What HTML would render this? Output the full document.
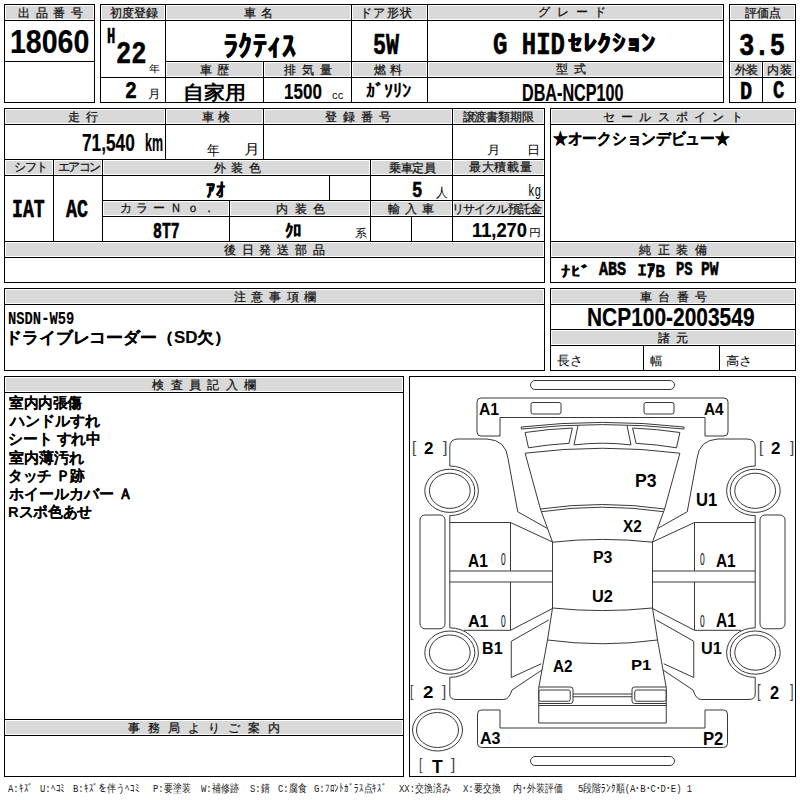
<!DOCTYPE html><html><head><meta charset="utf-8"><style>
html,body{margin:0;padding:0;background:#fff;width:800px;height:800px;overflow:hidden}
#p{position:relative;width:800px;height:800px;font-family:"Liberation Sans",sans-serif;color:#000}
.l{position:absolute;background:#000}.g{position:absolute;background:#d9d9d9}
.t{position:absolute;white-space:pre;line-height:1;transform-origin:0 0}
.h{color:#111;-webkit-text-stroke:0.25px #111}.b{font-weight:bold}
.f{position:absolute;white-space:pre;line-height:1;font-size:11px;color:#222;font-family:"Liberation Mono",monospace;transform:scaleX(0.81);transform-origin:0 0}
</style></head><body><div id="p">
<div class="g" style="left:6px;top:6px;width:87px;height:13px"></div>
<div class="g" style="left:102px;top:6px;width:62px;height:13px"></div>
<div class="g" style="left:167px;top:6px;width:183px;height:13px"></div>
<div class="g" style="left:353px;top:6px;width:73px;height:13px"></div>
<div class="g" style="left:429px;top:6px;width:293px;height:13px"></div>
<div class="g" style="left:167px;top:63px;width:95px;height:13px"></div>
<div class="g" style="left:265px;top:63px;width:85px;height:13px"></div>
<div class="g" style="left:353px;top:63px;width:73px;height:13px"></div>
<div class="g" style="left:429px;top:63px;width:293px;height:13px"></div>
<div class="g" style="left:731px;top:6px;width:63px;height:13px"></div>
<div class="g" style="left:731px;top:63px;width:30px;height:13px"></div>
<div class="g" style="left:764px;top:63px;width:30px;height:13px"></div>
<div class="g" style="left:6px;top:110px;width:158px;height:13px"></div>
<div class="g" style="left:167px;top:110px;width:95px;height:13px"></div>
<div class="g" style="left:265px;top:110px;width:186px;height:13px"></div>
<div class="g" style="left:454px;top:110px;width:89px;height:13px"></div>
<div class="g" style="left:6px;top:161px;width:46px;height:13px"></div>
<div class="g" style="left:55px;top:161px;width:46px;height:13px"></div>
<div class="g" style="left:104px;top:161px;width:265px;height:13px"></div>
<div class="g" style="left:372px;top:161px;width:79px;height:13px"></div>
<div class="g" style="left:454px;top:161px;width:89px;height:13px"></div>
<div class="g" style="left:104px;top:202px;width:124px;height:13px"></div>
<div class="g" style="left:231px;top:202px;width:138px;height:13px"></div>
<div class="g" style="left:372px;top:202px;width:79px;height:13px"></div>
<div class="g" style="left:454px;top:202px;width:89px;height:13px"></div>
<div class="g" style="left:6px;top:243px;width:537px;height:13px"></div>
<div class="g" style="left:552px;top:110px;width:242px;height:13px"></div>
<div class="g" style="left:552px;top:243px;width:242px;height:13px"></div>
<div class="g" style="left:6px;top:290px;width:537px;height:13px"></div>
<div class="g" style="left:552px;top:290px;width:242px;height:13px"></div>
<div class="g" style="left:552px;top:331px;width:242px;height:13px"></div>
<div class="g" style="left:6px;top:378px;width:396px;height:13px"></div>
<div class="g" style="left:6px;top:721px;width:396px;height:13px"></div>
<div class="l" style="left:4px;top:4px;width:91px;height:1px"></div>
<div class="l" style="left:4px;top:102px;width:91px;height:1px"></div>
<div class="l" style="left:4px;top:4px;width:1px;height:99px"></div>
<div class="l" style="left:94px;top:4px;width:1px;height:99px"></div>
<div class="l" style="left:4px;top:20px;width:91px;height:1px"></div>
<div class="l" style="left:4px;top:61px;width:91px;height:1px"></div>
<div class="l" style="left:100px;top:4px;width:624px;height:1px"></div>
<div class="l" style="left:100px;top:102px;width:624px;height:1px"></div>
<div class="l" style="left:100px;top:4px;width:1px;height:99px"></div>
<div class="l" style="left:723px;top:4px;width:1px;height:99px"></div>
<div class="l" style="left:100px;top:20px;width:624px;height:1px"></div>
<div class="l" style="left:165px;top:4px;width:1px;height:99px"></div>
<div class="l" style="left:351px;top:4px;width:1px;height:99px"></div>
<div class="l" style="left:427px;top:4px;width:1px;height:99px"></div>
<div class="l" style="left:165px;top:61px;width:559px;height:1px"></div>
<div class="l" style="left:100px;top:77px;width:624px;height:1px"></div>
<div class="l" style="left:263px;top:61px;width:1px;height:42px"></div>
<div class="l" style="left:729px;top:4px;width:67px;height:1px"></div>
<div class="l" style="left:729px;top:102px;width:67px;height:1px"></div>
<div class="l" style="left:729px;top:4px;width:1px;height:99px"></div>
<div class="l" style="left:795px;top:4px;width:1px;height:99px"></div>
<div class="l" style="left:729px;top:20px;width:67px;height:1px"></div>
<div class="l" style="left:729px;top:61px;width:67px;height:1px"></div>
<div class="l" style="left:729px;top:77px;width:67px;height:1px"></div>
<div class="l" style="left:762px;top:61px;width:1px;height:42px"></div>
<div class="l" style="left:4px;top:108px;width:541px;height:1px"></div>
<div class="l" style="left:4px;top:282px;width:541px;height:1px"></div>
<div class="l" style="left:4px;top:108px;width:1px;height:175px"></div>
<div class="l" style="left:544px;top:108px;width:1px;height:175px"></div>
<div class="l" style="left:4px;top:124px;width:541px;height:1px"></div>
<div class="l" style="left:165px;top:108px;width:1px;height:52px"></div>
<div class="l" style="left:263px;top:108px;width:1px;height:52px"></div>
<div class="l" style="left:452px;top:108px;width:1px;height:134px"></div>
<div class="l" style="left:4px;top:159px;width:541px;height:1px"></div>
<div class="l" style="left:4px;top:175px;width:541px;height:1px"></div>
<div class="l" style="left:53px;top:159px;width:1px;height:83px"></div>
<div class="l" style="left:102px;top:159px;width:1px;height:83px"></div>
<div class="l" style="left:370px;top:159px;width:1px;height:83px"></div>
<div class="l" style="left:102px;top:200px;width:443px;height:1px"></div>
<div class="l" style="left:102px;top:216px;width:443px;height:1px"></div>
<div class="l" style="left:329px;top:175px;width:1px;height:26px"></div>
<div class="l" style="left:229px;top:200px;width:1px;height:42px"></div>
<div class="l" style="left:411px;top:216px;width:1px;height:26px"></div>
<div class="l" style="left:4px;top:241px;width:541px;height:1px"></div>
<div class="l" style="left:4px;top:257px;width:541px;height:1px"></div>
<div class="l" style="left:550px;top:108px;width:246px;height:1px"></div>
<div class="l" style="left:550px;top:282px;width:246px;height:1px"></div>
<div class="l" style="left:550px;top:108px;width:1px;height:175px"></div>
<div class="l" style="left:795px;top:108px;width:1px;height:175px"></div>
<div class="l" style="left:550px;top:124px;width:246px;height:1px"></div>
<div class="l" style="left:550px;top:241px;width:246px;height:1px"></div>
<div class="l" style="left:550px;top:257px;width:246px;height:1px"></div>
<div class="l" style="left:4px;top:288px;width:541px;height:1px"></div>
<div class="l" style="left:4px;top:370px;width:541px;height:1px"></div>
<div class="l" style="left:4px;top:288px;width:1px;height:83px"></div>
<div class="l" style="left:544px;top:288px;width:1px;height:83px"></div>
<div class="l" style="left:4px;top:304px;width:541px;height:1px"></div>
<div class="l" style="left:550px;top:288px;width:246px;height:1px"></div>
<div class="l" style="left:550px;top:370px;width:246px;height:1px"></div>
<div class="l" style="left:550px;top:288px;width:1px;height:83px"></div>
<div class="l" style="left:795px;top:288px;width:1px;height:83px"></div>
<div class="l" style="left:550px;top:304px;width:246px;height:1px"></div>
<div class="l" style="left:550px;top:329px;width:246px;height:1px"></div>
<div class="l" style="left:550px;top:345px;width:246px;height:1px"></div>
<div class="l" style="left:643px;top:345px;width:1px;height:26px"></div>
<div class="l" style="left:719px;top:345px;width:1px;height:26px"></div>
<div class="l" style="left:4px;top:376px;width:400px;height:1px"></div>
<div class="l" style="left:4px;top:776px;width:400px;height:1px"></div>
<div class="l" style="left:4px;top:376px;width:1px;height:401px"></div>
<div class="l" style="left:403px;top:376px;width:1px;height:401px"></div>
<div class="l" style="left:4px;top:392px;width:400px;height:1px"></div>
<div class="l" style="left:4px;top:719px;width:400px;height:1px"></div>
<div class="l" style="left:4px;top:735px;width:400px;height:1px"></div>
<div class="l" style="left:409px;top:376px;width:387px;height:1px"></div>
<div class="l" style="left:409px;top:776px;width:387px;height:1px"></div>
<div class="l" style="left:409px;top:376px;width:1px;height:401px"></div>
<div class="l" style="left:795px;top:376px;width:1px;height:401px"></div>
<svg width="800" height="800" viewBox="0 0 800 800" style="position:absolute;left:0;top:0" fill="none" stroke="#383838" stroke-width="1">
<g id="lh">
<rect x="531" y="402.5" width="30" height="11.5" rx="2"/>
<path d="M525.1,432.5 Q548,429 572.4,428 L569,443.3 Q548,444.5 528.5,447.8 Z"/>
<path d="M540.4,509 L552.5,542"/>
<path d="M552.5,542 L552.5,608.5"/>
<path d="M552.5,608 L547.5,640 L538.75,687.5 L538.75,723"/>
<path d="M538.75,687 L570.5,687 Q573,687 573,689.5 L573,701 Q573,703.5 570.5,703.5 L538.75,703.5"/>
<rect x="538.75" y="690" width="31.5" height="11.25" rx="2"/>
<ellipse cx="449.8" cy="490.8" rx="25" ry="21.6"/>
<ellipse cx="449.8" cy="490.8" rx="20.4" ry="17.6"/>
<path d="M449.8,466.0 A28.6,24.8 0 0 1 449.8,515.6"/>
<ellipse cx="449.8" cy="652.6" rx="25" ry="21.6"/>
<ellipse cx="449.8" cy="652.6" rx="20.4" ry="17.6"/>
<path d="M449.8,627.8 A28.6,24.8 0 0 1 449.8,677.4"/>
<rect x="420" y="515" width="25" height="113.75" rx="5"/>
<path d="M449.8,466 L449.8,447 Q449.8,439 458,439 L487,439 Q506,440 508,458.5 L517.75,511.75 L547,528.25"/>
<path d="M449.8,515.6 L449.8,627.8"/>
<path d="M449.8,522.5 L510.5,522.5 L552.5,542"/>
<path d="M510.5,522.5 L510.5,571 M510.5,582 L510.5,630"/>
<path d="M449.8,571 L552.5,571 M449.8,582 L552.5,582"/>
<path d="M464,630.3 L510.5,630.3 L552.5,608.5"/>
<path d="M548.75,620 L511.25,641.25 L511.25,677.5 L541.25,663.75"/>
<path d="M449.8,677.4 L449.8,694 Q449.8,699.5 456,699.5 L503.75,699.5 Q509,699.5 512,690 L542,670"/>
</g>
<g transform="translate(1205,0) scale(-1,1)">
<rect x="531" y="402.5" width="30" height="11.5" rx="2"/>
<path d="M525.1,432.5 Q548,429 572.4,428 L569,443.3 Q548,444.5 528.5,447.8 Z"/>
<path d="M540.4,509 L552.5,542"/>
<path d="M552.5,542 L552.5,608.5"/>
<path d="M552.5,608 L547.5,640 L538.75,687.5 L538.75,723"/>
<path d="M538.75,687 L570.5,687 Q573,687 573,689.5 L573,701 Q573,703.5 570.5,703.5 L538.75,703.5"/>
<rect x="538.75" y="690" width="31.5" height="11.25" rx="2"/>
<ellipse cx="449.8" cy="490.8" rx="25" ry="21.6"/>
<ellipse cx="449.8" cy="490.8" rx="20.4" ry="17.6"/>
<path d="M449.8,466.0 A28.6,24.8 0 0 1 449.8,515.6"/>
<ellipse cx="449.8" cy="652.6" rx="25" ry="21.6"/>
<ellipse cx="449.8" cy="652.6" rx="20.4" ry="17.6"/>
<path d="M449.8,627.8 A28.6,24.8 0 0 1 449.8,677.4"/>
<rect x="420" y="515" width="25" height="113.75" rx="5"/>
<path d="M449.8,466 L449.8,447 Q449.8,439 458,439 L487,439 Q506,440 508,458.5 L517.75,511.75 L547,528.25"/>
<path d="M449.8,515.6 L449.8,627.8"/>
<path d="M449.8,522.5 L510.5,522.5 L552.5,542"/>
<path d="M510.5,522.5 L510.5,571 M510.5,582 L510.5,630"/>
<path d="M449.8,571 L552.5,571 M449.8,582 L552.5,582"/>
<path d="M464,630.3 L510.5,630.3 L552.5,608.5"/>
<path d="M548.75,620 L511.25,641.25 L511.25,677.5 L541.25,663.75"/>
<path d="M449.8,677.4 L449.8,694 Q449.8,699.5 456,699.5 L503.75,699.5 Q509,699.5 512,690 L542,670"/>
</g>
<rect x="530.5" y="380.5" width="144" height="9" rx="4.5"/>
<rect x="530.5" y="756.5" width="144" height="9" rx="4.5"/>
<path d="M500,436 L481,436 Q477,436 477,432 L477,402 Q477,398 481,398 L724,398 Q728,398 728,402 L728,432 Q728,436 724,436 L705,436 L705,417.5 L500,417.5 Z"/>
<path d="M521.3,427 Q602.5,417.8 684,427 L684,429 Q602.5,420.2 521.3,429 Z"/>
<path d="M578,425.5 L574,444.9 Q602.5,441.5 631,444.9 L627,425.5"/>
<path d="M525.1,453.2 Q602.5,443.3 679.9,453.2 L664.6,509 Q602.5,500 540.4,509 Z"/>
<path d="M541.5,511.7 Q602.5,502.7 663.5,511.7"/>
<path d="M552.5,542.2 Q602.5,536.6 652.5,542.2"/>
<path d="M552.5,608 Q602.5,613.2 652.5,608"/>
<path d="M547.5,640 Q602.5,647.5 657.5,640"/>
<path d="M573,694 L632,694 M573,696.75 L632,696.75"/>
<path d="M538.75,705.5 L666.25,705.5 M538.75,723 L666.25,723"/>
<path d="M500,710 L481.5,710 Q477.5,710 477.5,714 L477.5,743.5 Q477.5,747.5 481.5,747.5 L723.5,747.5 Q727.5,747.5 727.5,743.5 L727.5,714 Q727.5,710 723.5,710 L705,710 L705,728 L500,728 Z"/>
<ellipse cx="437.5" cy="730" rx="25" ry="21"/>
<ellipse cx="437.5" cy="730" rx="21" ry="17.5"/>
</svg>
<div class="t h" id="t0" style="left:18.10px;top:8.16px;font-size:11.50px;letter-spacing:1.22px;">出 品 番 号</div>
<div class="t h" id="t1" style="left:109.59px;top:7.65px;font-size:11.50px;letter-spacing:0.13px;">初度登録</div>
<div class="t h" id="t2" style="left:243.76px;top:7.51px;font-size:11.50px;letter-spacing:1.17px;">車 名</div>
<div class="t h" id="t3" style="left:360.19px;top:8.16px;font-size:11.50px;letter-spacing:1.29px;">ドア形状</div>
<div class="t h" id="t4" style="left:538.00px;top:6.79px;font-size:11.50px;letter-spacing:1.81px;">グ レ ー ド</div>
<div class="t h" id="t5" style="left:745.00px;top:7.57px;font-size:11.50px;letter-spacing:-0.04px;">評価点</div>
<div class="t h" id="t6" style="left:200.00px;top:64.74px;font-size:11.50px;letter-spacing:1.02px;">車 歴</div>
<div class="t h" id="t7" style="left:283.80px;top:64.65px;font-size:11.50px;letter-spacing:1.36px;">排 気 量</div>
<div class="t h" id="t8" style="left:373.80px;top:64.65px;font-size:11.50px;letter-spacing:0.52px;">燃 料</div>
<div class="t h" id="t9" style="left:556.00px;top:64.06px;font-size:11.50px;letter-spacing:1.63px;">型 式</div>
<div class="t h" id="t10" style="left:734.53px;top:64.77px;font-size:11.50px;letter-spacing:-0.92px;">外装</div>
<div class="t h" id="t11" style="left:767.42px;top:65.27px;font-size:11.50px;letter-spacing:0.30px;">内装</div>
<div class="t h" id="t12" style="left:68.15px;top:112.46px;font-size:11.50px;letter-spacing:1.22px;">走 行</div>
<div class="t h" id="t13" style="left:201.66px;top:112.46px;font-size:11.50px;letter-spacing:0.60px;">車 検</div>
<div class="t h" id="t14" style="left:325.47px;top:111.51px;font-size:11.50px;letter-spacing:1.31px;">登 録 番 号</div>
<div class="t h" id="t15" style="left:462.53px;top:111.51px;font-size:11.50px;letter-spacing:-0.11px;">譲渡書類期限</div>
<div class="t h" id="t16" style="left:603.05px;top:111.54px;font-size:11.50px;letter-spacing:1.51px;">セ ー ル ス ポ イ ン ト</div>
<div class="t h" id="t17" style="left:13.55px;top:161.59px;font-size:11.50px;letter-spacing:-0.91px;">シフト</div>
<div class="t h" id="t18" style="left:57.88px;top:162.19px;font-size:11.50px;letter-spacing:-1.60px;">エアコン</div>
<div class="t h" id="t19" style="left:213.55px;top:162.66px;font-size:11.50px;letter-spacing:1.19px;">外 装 色</div>
<div class="t h" id="t20" style="left:389.23px;top:162.81px;font-size:11.50px;letter-spacing:-0.56px;">乗車定員</div>
<div class="t h" id="t21" style="left:469.00px;top:162.42px;font-size:11.50px;letter-spacing:0.67px;">最大積載量</div>
<div class="t h" id="t22" style="left:119.82px;top:202.51px;font-size:11.50px;letter-spacing:0.74px;">カ ラ ー Ｎ ｏ ．</div>
<div class="t h" id="t23" style="left:276.00px;top:203.79px;font-size:11.50px;letter-spacing:1.68px;">内 装 色</div>
<div class="t h" id="t24" style="left:387.50px;top:204.29px;font-size:11.50px;letter-spacing:1.03px;">輸 入 車</div>
<div class="t h" id="t25" style="left:452.31px;top:204.16px;font-size:11.50px;letter-spacing:-0.95px;">リサイクル預託金</div>
<div class="t h" id="t26" style="left:223.78px;top:245.16px;font-size:11.50px;letter-spacing:1.28px;">後 日 発 送 部 品</div>
<div class="t h" id="t27" style="left:639.00px;top:244.51px;font-size:11.50px;letter-spacing:1.72px;">純 正 装 備</div>
<div class="t h" id="t28" style="left:233.76px;top:291.51px;font-size:11.50px;letter-spacing:1.24px;">注 意 事 項 欄</div>
<div class="t h" id="t29" style="left:640.32px;top:291.51px;font-size:11.50px;letter-spacing:1.45px;">車 台 番 号</div>
<div class="t h" id="t30" style="left:658.46px;top:333.39px;font-size:11.50px;letter-spacing:1.32px;">諸 元</div>
<div class="t h" id="t31" style="left:152.32px;top:379.51px;font-size:11.50px;letter-spacing:1.56px;">検 査 員 記 入 欄</div>
<div class="t h" id="t32" style="left:128.00px;top:722.51px;font-size:11.50px;letter-spacing:2.41px;">事 務 局 よ り ご 案 内</div>
<div class="t" id="t33" style="left:10.35px;top:26.01px;font-size:32.65px;font-weight:bold;transform:scaleX(0.874);-webkit-text-stroke:0.2px #000;">18060</div>
<div class="t" id="t34" style="left:107.16px;top:26.83px;font-size:21.17px;font-weight:bold;transform:scaleX(0.652);font-family:'Liberation Mono',monospace;-webkit-text-stroke:0.6px #000;">H</div>
<div class="t" id="t35" style="left:116.15px;top:39.46px;font-size:31.48px;font-weight:bold;transform:scaleX(0.806);font-family:'Liberation Mono',monospace;-webkit-text-stroke:0.6px #000;">22</div>
<div class="t" id="t36" style="left:149.29px;top:63.56px;font-size:10.47px;transform:scaleX(1.090);">年</div>
<div class="t" id="t37" style="left:125.30px;top:79.56px;font-size:23.61px;font-weight:bold;transform:scaleX(0.837);font-family:'Liberation Mono',monospace;-webkit-text-stroke:0.6px #000;">2</div>
<div class="t" id="t38" style="left:148.10px;top:87.57px;font-size:11.63px;transform:scaleX(1.045);">月</div>
<div class="t" id="t39" style="left:223.93px;top:33.65px;font-size:29.22px;font-weight:bold;transform:scaleX(0.959);font-family:'Liberation Mono',monospace;-webkit-text-stroke:0.6px #000;">ﾗｸﾃｨｽ</div>
<div class="t" id="t40" style="left:373.09px;top:32.04px;font-size:29.74px;font-weight:bold;transform:scaleX(0.730);font-family:'Liberation Mono',monospace;-webkit-text-stroke:0.6px #000;">5W</div>
<div class="t" id="t41" style="left:493.26px;top:30.48px;font-size:31.19px;font-weight:bold;transform:scaleX(0.769);font-family:'Liberation Mono',monospace;-webkit-text-stroke:0.6px #000;">G HID</div>
<div class="t" id="t42" style="left:568.21px;top:34.03px;font-size:23.32px;font-weight:bold;transform:scaleX(1.223);font-family:'Liberation Mono',monospace;-webkit-text-stroke:0.6px #000;">ｾﾚｸｼｮﾝ</div>
<div class="t" id="t43" style="left:739.14px;top:31.08px;font-size:31.48px;font-weight:bold;transform:scaleX(0.813);font-family:'Liberation Mono',monospace;-webkit-text-stroke:0.6px #000;">3.5</div>
<div class="t" id="t44" style="left:182.86px;top:82.82px;font-size:19.36px;font-weight:bold;transform:scaleX(1.104);">自家用</div>
<div class="t" id="t45" style="left:283.94px;top:80.74px;font-size:22.04px;font-weight:bold;transform:scaleX(0.772);-webkit-text-stroke:0.2px #000;">1500</div>
<div class="t" id="t46" style="left:332.40px;top:91.64px;font-size:9.18px;transform:scaleX(1.034);font-family:'Liberation Mono',monospace;">CC</div>
<div class="t" id="t47" style="left:365.56px;top:84.18px;font-size:17.92px;font-weight:bold;transform:scaleX(1.011);font-family:'Liberation Mono',monospace;">ｶﾞｿﾘﾝ</div>
<div class="t" id="t48" style="left:522.26px;top:81.80px;font-size:23.69px;font-weight:bold;transform:scaleX(0.682);-webkit-text-stroke:0.2px #000;">DBA-NCP100</div>
<div class="t" id="t49" style="left:739.53px;top:79.65px;font-size:25.36px;font-weight:bold;transform:scaleX(0.794);font-family:'Liberation Mono',monospace;-webkit-text-stroke:0.6px #000;">D</div>
<div class="t" id="t50" style="left:773.00px;top:79.49px;font-size:25.89px;font-weight:bold;transform:scaleX(0.733);font-family:'Liberation Mono',monospace;-webkit-text-stroke:0.6px #000;">C</div>
<div class="t" id="t51" style="left:81.55px;top:132.01px;font-size:23.72px;font-weight:bold;transform:scaleX(0.727);-webkit-text-stroke:0.2px #000;">71,540</div>
<div class="t" id="t52" style="left:144.66px;top:131.10px;font-size:24.30px;font-weight:bold;transform:scaleX(0.513);-webkit-text-stroke:0.2px #000;">km</div>
<div class="t" id="t53" style="left:206.66px;top:143.12px;font-size:14.21px;transform:scaleX(0.900);">年</div>
<div class="t" id="t54" style="left:244.07px;top:143.27px;font-size:13.61px;transform:scaleX(1.129);">月</div>
<div class="t" id="t55" style="left:487.09px;top:144.02px;font-size:11.60px;transform:scaleX(1.111);">月</div>
<div class="t" id="t56" style="left:527.20px;top:144.02px;font-size:11.60px;transform:scaleX(1.100);">日</div>
<div class="t" id="t57" style="left:552.67px;top:131.06px;font-size:16.00px;font-weight:bold;transform:scaleX(0.919);-webkit-text-stroke:0.15px #000;">★オークションデビュー★</div>
<div class="t" id="t58" style="left:12.22px;top:198.17px;font-size:25.52px;font-weight:bold;transform:scaleX(0.712);font-family:'Liberation Mono',monospace;-webkit-text-stroke:0.6px #000;">IAT</div>
<div class="t" id="t59" style="left:66.16px;top:198.17px;font-size:25.52px;font-weight:bold;transform:scaleX(0.718);font-family:'Liberation Mono',monospace;-webkit-text-stroke:0.6px #000;">AC</div>
<div class="t" id="t60" style="left:206.21px;top:183.27px;font-size:18.81px;font-weight:bold;transform:scaleX(0.965);font-family:'Liberation Mono',monospace;-webkit-text-stroke:0.2px #000;">ｱｵ</div>
<div class="t" id="t61" style="left:412.21px;top:181.14px;font-size:21.33px;font-weight:bold;transform:scaleX(0.814);font-family:'Liberation Mono',monospace;-webkit-text-stroke:0.6px #000;">5</div>
<div class="t" id="t62" style="left:436.00px;top:186.83px;font-size:12.94px;transform:scaleX(0.908);">人</div>
<div class="t" id="t63" style="left:527.83px;top:184.28px;font-size:16.90px;transform:scaleX(0.652);font-family:'Liberation Mono',monospace;">kg</div>
<div class="t" id="t64" style="left:152.60px;top:222.40px;font-size:22.03px;font-weight:bold;transform:scaleX(0.675);font-family:'Liberation Mono',monospace;-webkit-text-stroke:0.6px #000;">8T7</div>
<div class="t" id="t65" style="left:284.53px;top:222.90px;font-size:18.23px;font-weight:bold;transform:scaleX(0.926);font-family:'Liberation Mono',monospace;-webkit-text-stroke:0.2px #000;">ｸﾛ</div>
<div class="t" id="t66" style="left:355.39px;top:227.89px;font-size:10.84px;transform:scaleX(1.080);">系</div>
<div class="t" id="t67" style="left:472.18px;top:219.93px;font-size:20.71px;font-weight:bold;transform:scaleX(0.882);-webkit-text-stroke:0.2px #000;">11,270</div>
<div class="t" id="t68" style="left:529.24px;top:227.94px;font-size:9.64px;transform:scaleX(1.191);">円</div>
<div class="t" id="t69" style="left:560.71px;top:265.71px;font-size:15.28px;font-weight:bold;transform:scaleX(1.237);font-family:'Liberation Mono',monospace;-webkit-text-stroke:0.1px #000;">ﾅﾋﾞ</div>
<div class="t" id="t70" style="left:599.30px;top:260.29px;font-size:20.79px;font-weight:bold;transform:scaleX(0.723);font-family:'Liberation Mono',monospace;-webkit-text-stroke:0.6px #000;">ABS</div>
<div class="t" id="t71" style="left:638.11px;top:262.50px;font-size:18.90px;font-weight:bold;transform:scaleX(0.866);font-family:'Liberation Mono',monospace;-webkit-text-stroke:0.3px #000;">ｴｱB</div>
<div class="t" id="t72" style="left:676.08px;top:260.29px;font-size:20.79px;font-weight:bold;transform:scaleX(0.663);font-family:'Liberation Mono',monospace;-webkit-text-stroke:0.6px #000;">PS</div>
<div class="t" id="t73" style="left:701.49px;top:260.29px;font-size:20.79px;font-weight:bold;transform:scaleX(0.705);font-family:'Liberation Mono',monospace;-webkit-text-stroke:0.6px #000;">PW</div>
<div class="t" id="t74" style="left:7.98px;top:311.08px;font-size:18.49px;font-weight:bold;transform:scaleX(0.747);font-family:'Liberation Mono',monospace;-webkit-text-stroke:0.1px #000;">NSDN-W59</div>
<div class="t" id="t75" style="left:5.05px;top:329.86px;font-size:16.00px;font-weight:bold;transform:scaleX(1.056);-webkit-text-stroke:0.15px #000;">ドライブレコーダー（SD欠）</div>
<div class="t" id="t76" style="left:587.39px;top:305.10px;font-size:24.98px;font-weight:bold;transform:scaleX(0.838);-webkit-text-stroke:0.2px #000;">NCP100-2003549</div>
<div class="t" id="t77" style="left:557.00px;top:355.07px;font-size:12.67px;transform:scaleX(0.987);">長さ</div>
<div class="t" id="t78" style="left:649.65px;top:355.01px;font-size:11.73px;transform:scaleX(1.039);">幅</div>
<div class="t" id="t79" style="left:726.09px;top:354.96px;font-size:12.20px;transform:scaleX(1.110);">高さ</div>
<div class="t" id="t80" style="left:8.81px;top:395.13px;font-size:15.00px;font-weight:bold;transform:scaleX(0.973);-webkit-text-stroke:0.01px #000;">室内内張傷</div>
<div class="t" id="t81" style="left:9.66px;top:412.50px;font-size:15.00px;font-weight:bold;transform:scaleX(1.002);-webkit-text-stroke:0.01px #000;">ハンドルすれ</div>
<div class="t" id="t82" style="left:7.93px;top:431.32px;font-size:15.00px;font-weight:bold;transform:scaleX(0.988);-webkit-text-stroke:0.01px #000;">シート すれ中</div>
<div class="t" id="t83" style="left:8.78px;top:449.94px;font-size:15.00px;font-weight:bold;-webkit-text-stroke:0.01px #000;">室内薄汚れ</div>
<div class="t" id="t84" style="left:7.98px;top:468.04px;font-size:15.00px;font-weight:bold;transform:scaleX(0.972);-webkit-text-stroke:0.01px #000;">タッチ Ｐ跡</div>
<div class="t" id="t85" style="left:8.77px;top:485.84px;font-size:15.00px;font-weight:bold;transform:scaleX(0.999);-webkit-text-stroke:0.01px #000;">ホイールカバー Ａ</div>
<div class="t" id="t86" style="left:7.89px;top:504.22px;font-size:15.00px;font-weight:bold;transform:scaleX(0.980);-webkit-text-stroke:0.01px #000;">Rスポ色あせ</div>
<div class="t" id="t87" style="left:479.00px;top:400.64px;font-size:17.28px;font-weight:bold;transform:scaleX(0.909);color:#000;">A1</div>
<div class="t" id="t88" style="left:703.75px;top:402.25px;font-size:16.88px;font-weight:bold;transform:scaleX(0.911);color:#000;">A4</div>
<div class="t" id="t89" style="left:411.88px;top:439.31px;font-size:16.44px;font-weight:normal;transform:scaleX(0.924);color:#444;">[</div>
<div class="t" id="t90" style="left:424.42px;top:441.00px;font-size:16.88px;font-weight:bold;transform:scaleX(1.009);color:#000;">2</div>
<div class="t" id="t91" style="left:442.62px;top:439.31px;font-size:16.44px;font-weight:normal;transform:scaleX(0.980);color:#444;">]</div>
<div class="t" id="t92" style="left:758.88px;top:439.31px;font-size:16.44px;font-weight:normal;transform:scaleX(0.924);color:#444;">[</div>
<div class="t" id="t93" style="left:770.78px;top:441.00px;font-size:16.88px;font-weight:bold;transform:scaleX(1.010);color:#000;">2</div>
<div class="t" id="t94" style="left:790.00px;top:439.31px;font-size:16.44px;font-weight:normal;transform:scaleX(0.924);color:#444;">]</div>
<div class="t" id="t95" style="left:410.40px;top:683.31px;font-size:16.44px;font-weight:normal;transform:scaleX(0.739);color:#444;">[</div>
<div class="t" id="t96" style="left:423.00px;top:685.00px;font-size:16.88px;font-weight:bold;transform:scaleX(1.111);color:#000;">2</div>
<div class="t" id="t97" style="left:442.00px;top:683.31px;font-size:16.44px;font-weight:normal;transform:scaleX(0.924);color:#444;">]</div>
<div class="t" id="t98" style="left:757.40px;top:682.11px;font-size:18.51px;font-weight:normal;transform:scaleX(0.700);color:#444;">[</div>
<div class="t" id="t99" style="left:770.00px;top:683.80px;font-size:18.23px;font-weight:bold;transform:scaleX(0.900);color:#000;">2</div>
<div class="t" id="t100" style="left:790.00px;top:682.11px;font-size:18.51px;font-weight:normal;transform:scaleX(0.700);color:#444;">]</div>
<div class="t" id="t101" style="left:419.40px;top:756.31px;font-size:16.44px;font-weight:normal;transform:scaleX(0.739);color:#444;">[</div>
<div class="t" id="t102" style="left:432.00px;top:758.90px;font-size:17.55px;font-weight:bold;color:#000;">T</div>
<div class="t" id="t103" style="left:451.00px;top:756.31px;font-size:16.44px;font-weight:normal;transform:scaleX(0.924);color:#444;">]</div>
<div class="t" id="t104" style="left:635.48px;top:472.28px;font-size:18.36px;font-weight:bold;transform:scaleX(0.959);color:#000;">P3</div>
<div class="t" id="t105" style="left:696.09px;top:490.80px;font-size:18.23px;font-weight:bold;transform:scaleX(0.911);color:#000;">U1</div>
<div class="t" id="t106" style="left:622.52px;top:518.50px;font-size:16.88px;font-weight:bold;transform:scaleX(0.902);color:#000;">X2</div>
<div class="t" id="t107" style="left:592.69px;top:549.86px;font-size:15.80px;font-weight:bold;transform:scaleX(1.003);color:#000;">P3</div>
<div class="t" id="t108" style="left:591.73px;top:588.06px;font-size:17.15px;font-weight:bold;transform:scaleX(0.952);color:#000;">U2</div>
<div class="t" id="t109" style="left:467.51px;top:552.00px;font-size:18.56px;font-weight:bold;transform:scaleX(0.832);color:#000;">A1</div>
<div class="t" id="t110" style="left:467.52px;top:613.50px;font-size:16.88px;font-weight:bold;transform:scaleX(0.952);color:#000;">A1</div>
<div class="t" id="t111" style="left:715.54px;top:552.00px;font-size:18.56px;font-weight:bold;transform:scaleX(0.828);color:#000;">A1</div>
<div class="t" id="t112" style="left:715.63px;top:610.60px;font-size:19.58px;font-weight:bold;transform:scaleX(0.794);color:#000;">A1</div>
<div class="t" id="t113" style="left:500.66px;top:550.60px;font-size:16.20px;font-weight:normal;transform:scaleX(0.521);color:#000;">0</div>
<div class="t" id="t114" style="left:500.66px;top:612.60px;font-size:16.20px;font-weight:normal;transform:scaleX(0.521);color:#000;">0</div>
<div class="t" id="t115" style="left:699.66px;top:550.60px;font-size:16.20px;font-weight:normal;transform:scaleX(0.521);color:#000;">0</div>
<div class="t" id="t116" style="left:699.66px;top:612.60px;font-size:16.20px;font-weight:normal;transform:scaleX(0.521);color:#000;">0</div>
<div class="t" id="t117" style="left:482.05px;top:641.00px;font-size:16.88px;font-weight:bold;transform:scaleX(0.955);color:#000;">B1</div>
<div class="t" id="t118" style="left:552.57px;top:658.50px;font-size:16.88px;font-weight:bold;transform:scaleX(0.907);color:#000;">A2</div>
<div class="t" id="t119" style="left:631.39px;top:657.80px;font-size:14.85px;font-weight:bold;transform:scaleX(1.117);color:#000;">P1</div>
<div class="t" id="t120" style="left:701.04px;top:641.00px;font-size:16.88px;font-weight:bold;transform:scaleX(0.963);color:#000;">U1</div>
<div class="t" id="t121" style="left:480.00px;top:731.00px;font-size:16.88px;font-weight:bold;transform:scaleX(0.952);color:#000;">A3</div>
<div class="t" id="t122" style="left:703.05px;top:731.40px;font-size:17.55px;font-weight:bold;transform:scaleX(0.950);color:#000;">P2</div>
<div class="f" style="left:8px;top:783.5px">A:ｷｽﾞ</div>
<div class="f" style="left:40px;top:783.5px">U:ﾍｺﾐ</div>
<div class="f" style="left:73px;top:783.5px">B:ｷｽﾞを伴うﾍｺﾐ</div>
<div class="f" style="left:152.6px;top:783.5px">P:要塗装</div>
<div class="f" style="left:201.4px;top:783.5px">W:補修跡</div>
<div class="f" style="left:249.5px;top:783.5px">S:錆</div>
<div class="f" style="left:277.5px;top:783.5px">C:腐食</div>
<div class="f" style="left:314px;top:783.5px">G:ﾌﾛﾝﾄｶﾞﾗｽ点ｷｽﾞ</div>
<div class="f" style="left:398.7px;top:783.5px">XX:交換済み</div>
<div class="f" style="left:462.5px;top:783.5px">X:要交換</div>
<div class="f" style="left:513.4px;top:783.5px">内･外装評価</div>
<div class="f" style="left:578px;top:783.5px">5段階ﾗﾝｸ順(A･B･C･D･E) 1</div>
</div></body></html>
